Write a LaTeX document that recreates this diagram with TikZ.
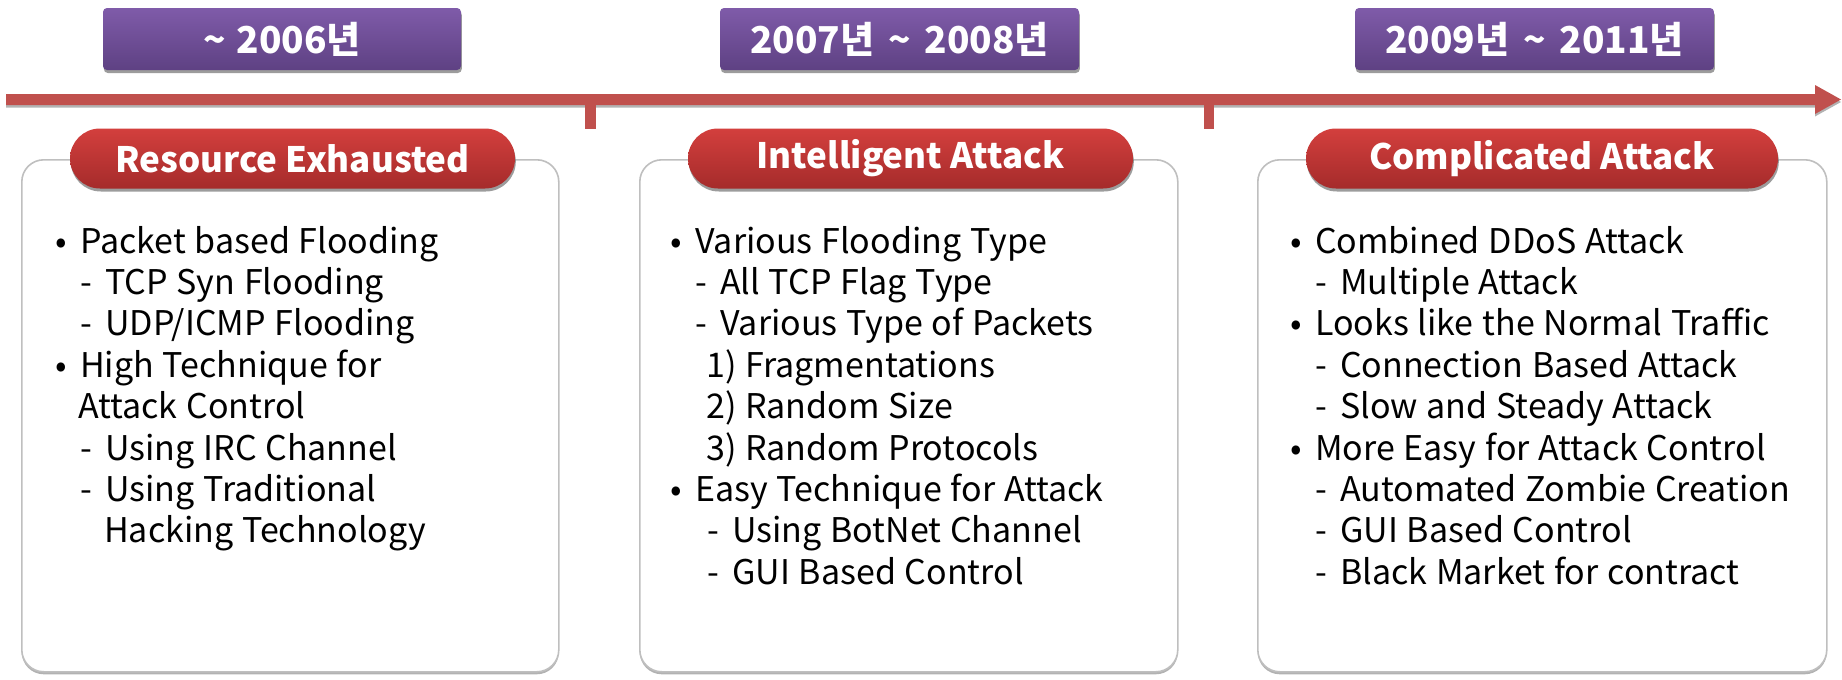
\documentclass[tikz,border=0pt]{standalone}
\usepackage{fontspec}
\setmainfont{Noto Sans CJK KR}
\newfontfamily\bodyfam{Noto Sans CJK KR}[WordSpace=1.15]
\usetikzlibrary{shadows}
\definecolor{purpTop}{HTML}{7F5BA9}
\definecolor{purpBot}{HTML}{5E4183}
\definecolor{redTop}{HTML}{D33F3D}
\definecolor{redBot}{HTML}{A52B2B}
\definecolor{lineRed}{HTML}{C0504D}
\definecolor{boxGray}{HTML}{BFBFBF}
\newcommand\bodyfont{\bodyfam\fontsize{34}{40}\selectfont}
\newcommand\bul{\makebox[25pt][l]{•}}
\newcommand\dsh{\makebox[25pt][l]{-}}
\newcommand\tld{\hspace*{14pt}\textasciitilde\hspace*{14pt}}
\tikzset{
  softshadow/.style={drop shadow={shadow xshift=0.8pt, shadow yshift=-3pt, fill=black!70, opacity=0.55}},
  yearbox/.style={rectangle, rounded corners=4pt, top color=purpTop, bottom color=purpBot,
    minimum height=62pt, text=white, font=\fontsize{37}{40}\selectfont\bfseries, inner sep=0pt, softshadow},
  titlepill/.style={rectangle, rounded corners=30pt, top color=redTop, bottom color=redBot,
    minimum height=60pt, text=white, font=\fontsize{35}{40}\selectfont\bfseries, inner sep=0pt, softshadow},
  contentbox/.style={rectangle, rounded corners=22pt, draw=boxGray, line width=1.6pt, fill=white,
    anchor=north west, inner sep=0pt,
    drop shadow={shadow xshift=0pt, shadow yshift=-2.5pt, fill=black!60, opacity=0.5}},
  tick/.style={fill=lineRed},
  bodytxt/.style={anchor=base west, inner sep=0pt, font=\bodyfont, text=black},
}
\begin{document}
\begin{tikzpicture}[x=1pt, y=-1pt]
\useasboundingbox (0,0) rectangle (1842,680);
\fill[white] (0,0) rectangle (1842,680);

% timeline
\fill[lineRed, drop shadow={shadow xshift=0pt, shadow yshift=-2.5pt, fill=black!60, opacity=0.5}]
  (6,94) -- (1815,94) -- (1815,85) -- (1841,99.5) -- (1815,114) -- (1815,105) -- (6,105) -- cycle;
\fill[tick] (585,100) rectangle (596,129);
\fill[tick] (1204,100) rectangle (1214,129);

% year boxes
\node[yearbox, minimum width=358pt] (y1) at (282,39) {\textasciitilde\hspace*{11pt}2006년};
\node[yearbox, minimum width=359pt] (y2) at (899.5,39) {2007년\tld 2008년};
\node[yearbox, minimum width=359pt] (y3) at (1534.5,39) {2009년\tld 2011년};

% content boxes
\node[contentbox, minimum width=537pt, minimum height=512pt] (b1) at (21,159) {};
\node[contentbox, minimum width=538pt, minimum height=512pt] (b2) at (639,159) {};
\node[contentbox, minimum width=569pt, minimum height=512pt] (b3) at (1257,159) {};

% title pills
\node[titlepill, minimum width=445pt] (p1) at (292.5,158.5) {Resource Exhausted};
\node[titlepill, minimum width=445pt] (p2) at (910.5,158.5) {Intelligent Attack};
\node[titlepill, minimum width=472pt] (p3) at (1542,158.5) {Complicated Attack};

% box 1 text
\node[bodytxt] (a1) at (55,253) {\bul Packet based Flooding};
\node[bodytxt] (a2) at (80,294.4) {\dsh TCP Syn Flooding};
\node[bodytxt] (a3) at (80,335.8) {\dsh UDP/ICMP Flooding};
\node[bodytxt] (a4) at (55,377.2) {\bul High Technique for};
\node[bodytxt] (a5) at (78,418.6) {Attack Control};
\node[bodytxt] (a6) at (80,460) {\dsh Using IRC Channel};
\node[bodytxt] (a7) at (80,501.4) {\dsh Using Traditional};
\node[bodytxt] (a8) at (104,542.8) {Hacking Technology};

% box 2 text
\node[bodytxt] (c1) at (670,253) {\bul Various Flooding Type};
\node[bodytxt] (c2) at (695,294.4) {\dsh All TCP Flag Type};
\node[bodytxt] (c3) at (695,335.8) {\dsh Various Type of Packets};
\node[bodytxt] (c4) at (706,377.2) {1) Fragmentations};
\node[bodytxt] (c5) at (706,418.6) {2) Random Size};
\node[bodytxt] (c6) at (706,460) {3) Random Protocols};
\node[bodytxt] (c7) at (670,501.4) {\bul Easy Technique for Attack};
\node[bodytxt] (c8) at (707,542.8) {\dsh Using BotNet Channel};
\node[bodytxt] (c9) at (707,584.2) {\dsh GUI Based Control};

% box 3 text
\node[bodytxt] (d1) at (1290,253) {\bul Combined DDoS Attack};
\node[bodytxt] (d2) at (1315,294.4) {\dsh Multiple Attack};
\node[bodytxt] (d3) at (1290,335.8) {\bul Looks like the Normal Traffic};
\node[bodytxt] (d4) at (1315,377.2) {\dsh Connection Based Attack};
\node[bodytxt] (d5) at (1315,418.6) {\dsh Slow and Steady Attack};
\node[bodytxt] (d6) at (1290,460) {\bul More Easy for Attack Control};
\node[bodytxt] (d7) at (1315,501.4) {\dsh Automated Zombie Creation};
\node[bodytxt] (d8) at (1315,542.8) {\dsh GUI Based Control};
\node[bodytxt] (d9) at (1315,584.2) {\dsh Black Market for contract};
\end{tikzpicture}
\end{document}
